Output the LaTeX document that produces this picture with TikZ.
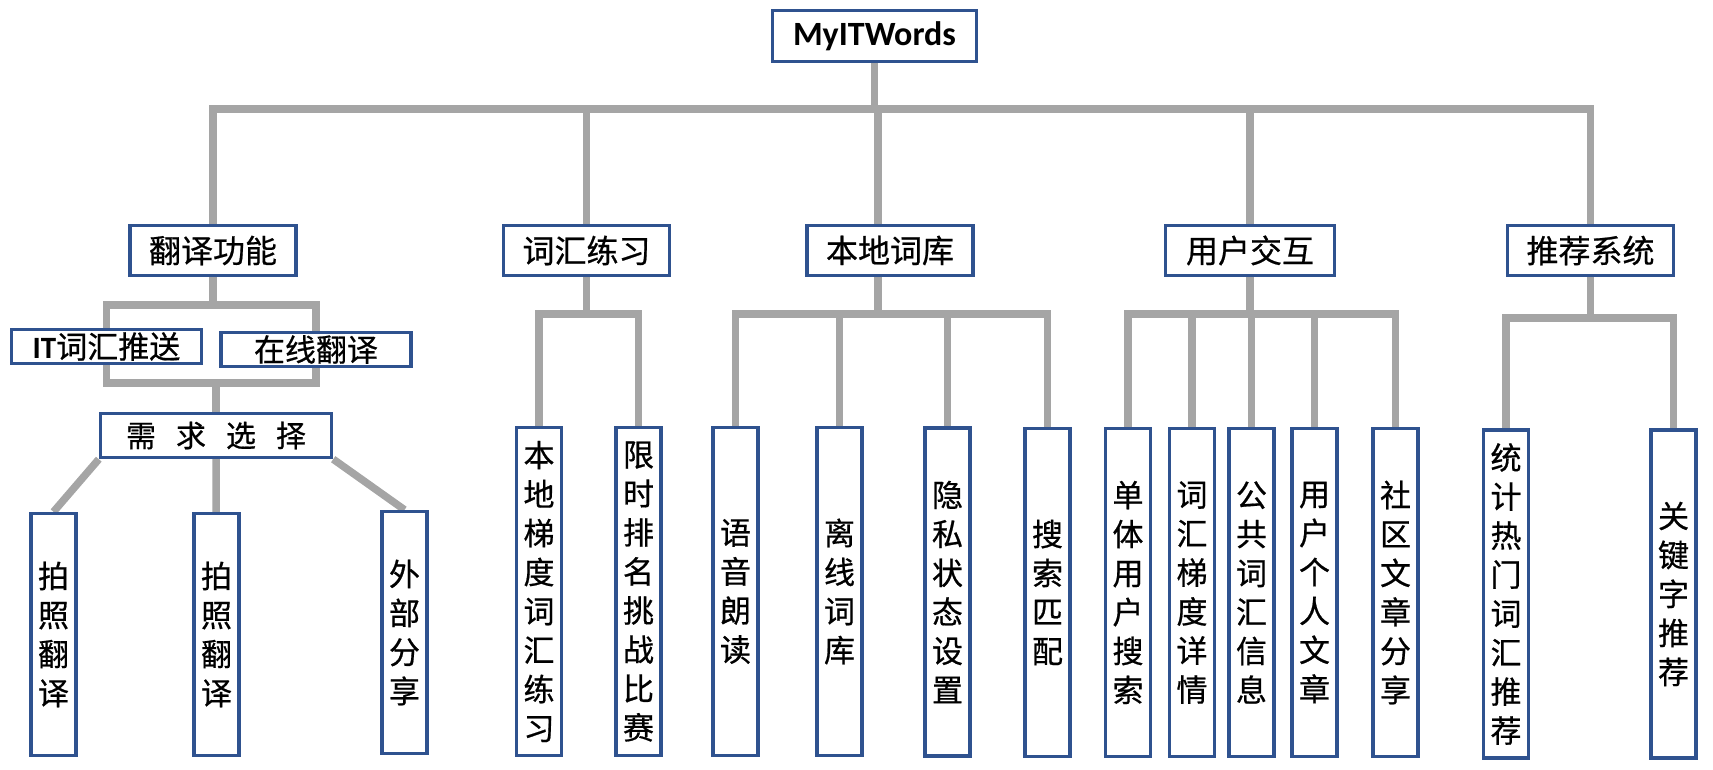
\documentclass[tikz,border=0pt]{standalone}
\usepackage{fontspec}
\usetikzlibrary{positioning}
\usetikzlibrary{backgrounds}
\newfontfamily\cjk[FakeBold=0.6]{Noto Sans CJK SC}
\newfontfamily\latin{Carlito}
\definecolor{boxblue}{HTML}{2F528F}
\definecolor{linegray}{HTML}{A5A5A5}

\begin{document}
\begin{tikzpicture}[x=1pt,
                    y=-1pt,
                    conn/.style={draw=linegray,line width=7.5pt},
                    box/.style={draw=boxblue,line width=3.4pt,fill=white,inner sep=0pt,align=center},
                    topbox/.style={box,minimum width=204pt,minimum height=51pt,font=\latin\bfseries\fontsize{34}{40}\selectfont},
                    midbox/.style={box,minimum width=166pt,minimum height=50pt,font=\cjk\fontsize{32}{38}\selectfont},
                    subbox/.style={box,minimum width=190pt,minimum height=34pt,font=\cjk\fontsize{31}{36}\selectfont},
                    leaf/.style={box,minimum width=45pt,minimum height=328pt,font=\cjk\fontsize{31}{39}\selectfont}
                    ]
  \useasboundingbox (0,0) rectangle (1713,770);
  % root and main branches
  \node[topbox] (root) at (874.5,36) {MyITWords};
  \node[midbox] (trans) at (213,250.5) {翻译功能};
  \node[midbox] (vocab) at (586.5,250.5) {词汇练习};
  \node[midbox] (local) at (890,250.5) {本地词库};
  \node[midbox,minimum width=169pt] (user) at (1250,250.5) {用户交互};
  \node[midbox] (recom) at (1590.5,250.5) {推荐系统};
  % translation
  \node[subbox] (push) at (106.5,346.5) {{\latin\bfseries IT}词汇推送};
  \node[subbox] (online) at (316,349.5) {在线翻译};
  \node[box,minimum width=231pt,minimum height=44pt,
        font=\cjk\fontsize{30}{36}\selectfont] (need) at (216,435.5) {\spaceskip=20pt\relax 需 求 选 择};
  \node[leaf,minimum height=242pt] (photoa) at (53.5,634.5) {拍\\照\\翻\\译};
  \node[leaf,minimum height=242pt] (photob) at (216.5,634.5) {拍\\照\\翻\\译};
  \node[leaf,minimum height=242pt] (extshare) at (404.5,632.5) {外\\部\\分\\享};
  % vocabulary
  \node[leaf] (grad) at (539,591.5) {本\\地\\梯\\度\\词\\汇\\练\\习};
  \node[leaf] (rank) at (638.5,591.5) {限\\时\\排\\名\\挑\\战\\比\\赛};
  % local library
  \node[leaf] (speech) at (735.5,591.5) {语\\音\\朗\\读};
  \node[leaf] (offline) at (839.5,591.5) {离\\线\\词\\库};
  \node[leaf] (privacy) at (947.5,592) {隐\\私\\状\\态\\设\\置};
  \node[leaf] (match) at (1047.5,592.5) {搜\\索\\匹\\配};
  % user interaction
  \node[leaf] (single) at (1128,592.5) {单\\体\\用\\户\\搜\\索};
  \node[leaf] (detail) at (1192,592.5) {词\\汇\\梯\\度\\详\\情};
  \node[leaf] (public) at (1251.5,592.5) {公\\共\\词\\汇\\信\\息};
  \node[leaf] (article) at (1314.5,592.5) {用\\户\\个\\人\\文\\章};
  \node[leaf] (community) at (1395.5,592.5) {社\\区\\文\\章\\分\\享};
  % recommendation
  \node[leaf] (hot) at (1506,594) {统\\计\\热\\门\\词\\汇\\推\\荐};
  \node[leaf] (keyword) at (1673.5,594) {关\\键\\字\\推\\荐};

  \begin{scope}[on background layer]
    \coordinate (mainbar) at (0,109);
    \coordinate (localstem) at ([xshift=-12pt]local.center);
    \draw[conn] (root.center) -- (root.center |- mainbar);
    \draw[conn] (trans.center) -- (trans.center |- mainbar) -- (recom.center |- mainbar) -- (recom.center);
    \foreach \n in {vocab,localstem,user}
      \draw[conn] (\n) -- (\n |- mainbar);
    % translation
    \coordinate (tbar) at (0,305);
    \coordinate (bbar) at (0,383);
    \draw[conn] (trans.center) -- (trans.center |- tbar);
    \draw[conn] (push.center |- bbar) -- (push.center |- tbar) -- (online.center |- tbar)
                -- (online.center |- bbar) -- cycle;
    \draw[conn] (need.center) -- (need.center |- bbar);
    \draw[conn] (need.south west) -- (photoa.north);
    \draw[conn] (need.center) -- (photob.center);
    \draw[conn] (need.south east) -- (extshare.north);
    % vocabulary
    \coordinate (vbar) at (0,314);
    \draw[conn] (vocab.center) -- (vocab.center |- vbar);
    \draw[conn] (grad.center) -- (grad.center |- vbar) -- (rank.center |- vbar) -- (rank.center);
    % local library
    \coordinate (lbar) at (0,314);
    \draw[conn] (localstem) -- (localstem |- lbar);
    \draw[conn] (speech.center) -- (speech.center |- lbar) -- (match.center |- lbar) -- (match.center);
    \foreach \n in {offline,privacy}
      \draw[conn] (\n.center) -- (\n.center |- lbar);
    % user interaction
    \coordinate (ubar) at (0,314);
    \draw[conn] (user.center) -- (user.center |- ubar);
    \draw[conn] (single.center) -- (single.center |- ubar) -- (community.center |- ubar) -- (community.center);
    \foreach \n in {detail,public,article}
      \draw[conn] (\n.center) -- (\n.center |- ubar);
    % recommendation
    \coordinate (rbar) at (0,318);
    \draw[conn] (recom.center) -- (recom.center |- rbar);
    \draw[conn] (hot.center) -- (hot.center |- rbar) -- (keyword.center |- rbar) -- (keyword.center);
  \end{scope}
\end{tikzpicture}
\end{document}
